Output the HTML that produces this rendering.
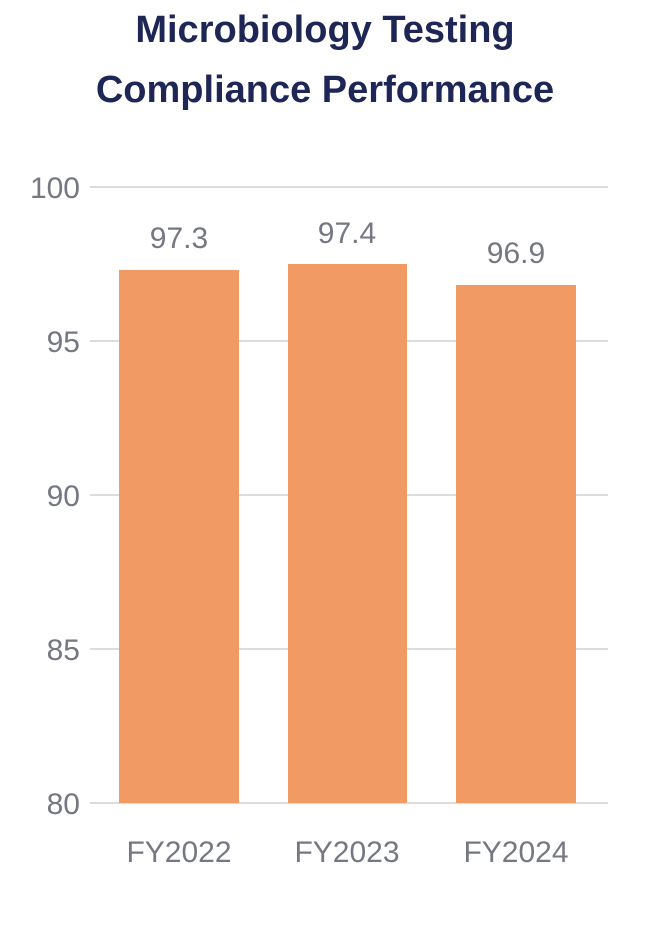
<!DOCTYPE html>
<html><head><meta charset="utf-8"><style>
body{margin:0;background:#fff;width:650px;height:924px;overflow:hidden}
</style></head><body>
<svg width="650" height="924" xmlns="http://www.w3.org/2000/svg" font-family="Liberation Sans, sans-serif">
<text x="325" y="42" text-anchor="middle" font-size="38" font-weight="bold" fill="#1e2656">Microbiology Testing</text>
<text x="325" y="102" text-anchor="middle" font-size="38" font-weight="bold" fill="#1e2656">Compliance Performance</text>
<g stroke="#dcdcdc" stroke-width="2">
<line x1="90" y1="187" x2="608" y2="187"/>
<line x1="90" y1="341" x2="608" y2="341"/>
<line x1="90" y1="495" x2="608" y2="495"/>
<line x1="90" y1="649" x2="608" y2="649"/>
<line x1="90" y1="803" x2="608" y2="803"/>
</g>
<g font-size="30" fill="#757783" text-anchor="end">
<text x="80" y="198">100</text>
<text x="80" y="352">95</text>
<text x="80" y="506">90</text>
<text x="80" y="660">85</text>
<text x="80" y="814">80</text>
</g>
<g fill="#f29a63">
<rect x="119" y="270" width="120" height="533"/>
<rect x="288" y="264" width="119" height="539"/>
<rect x="456" y="285" width="120" height="518"/>
</g>
<g font-size="30" fill="#757783" text-anchor="middle">
<text x="179" y="248">97.3</text>
<text x="347" y="243">97.4</text>
<text x="516" y="263">96.9</text>
<text x="179" y="862">FY2022</text>
<text x="347" y="862">FY2023</text>
<text x="516" y="862">FY2024</text>
</g>
</svg>
</body></html>
